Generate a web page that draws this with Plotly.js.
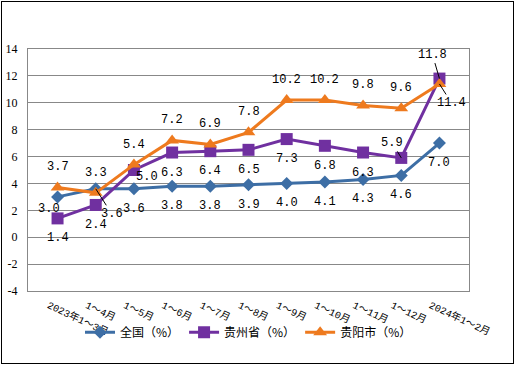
<!DOCTYPE html>
<html><head><meta charset="utf-8">
<script src="https://cdn.plot.ly/plotly-3.0.1.min.js"></script>
<style>
html,body{margin:0;padding:0;background:#fff;}
#wrap{position:relative;width:516px;height:366px;}
#chart{width:516px;height:366px;}
#frame{position:absolute;left:1px;top:1px;width:511px;height:361px;border:1px solid #000;pointer-events:none;}
</style></head>
<body><div id="wrap"><div id="chart"></div><div id="frame"></div></div>
<script>
const categories = ['2023年1～3月','1～4月','1～5月','1～6月','1～7月','1～8月','1～9月','1～10月','1～11月','1～12月','2024年1～2月'];
const seriesNames = ['全国（%）','贵州省（%）','贵阳市（%）'];
const national = [3.0, 3.6, 3.6, 3.8, 3.8, 3.9, 4.0, 4.1, 4.3, 4.6, 7.0];
const guizhou  = [1.4, 2.4, 5.0, 6.3, 6.4, 6.5, 7.3, 6.8, 6.3, 5.9, 11.8];
const guiyang  = [3.7, 3.3, 5.4, 7.2, 6.9, 7.8, 10.2, 10.2, 9.8, 9.6, 11.4];
const yTicks = [-4, -2, 0, 2, 4, 6, 8, 10, 12, 14];

const colors = ['#3D6EA5', '#7030A0', '#EE7A1E'];
const symbols = ['diamond', 'square', 'triangle-up'];
const msizes = [10, 12, 12];
const allData = [national, guizhou, guiyang];

// label offsets (pixels) and leader-line flags, per series
const defaultOff = [[0, 20], [0, 20], [0, -20]];
const specialOff = {
  '0-0': [-9, 12],
  '0-1': [16, 25, true],
  '1-2': [13, 7],
  '1-9': [-9, -15, true],
  '1-10': [-7, -24, true],
  '2-10': [12, 19, true]
};

const labelFont = {family: 'Liberation Mono, Noto Sans CJK SC', size: 12, color: '#000'};

const traces = allData.map((vals, s) => ({
  type: 'scatter', mode: 'lines+markers',
  name: seriesNames[s],
  x: categories, y: vals,
  line: {color: colors[s], width: 3},
  marker: {symbol: symbols[s], size: msizes[s], color: colors[s]}
}));

const annotations = [];
allData.forEach((vals, s) => {
  vals.forEach((v, i) => {
    const sp = specialOff[s + '-' + i];
    const off = sp || defaultOff[s];
    if (sp && sp[2]) {
      annotations.push({x: categories[i], y: v, xref: 'x', yref: 'y', text: v.toFixed(1),
        showarrow: true, ax: off[0], ay: off[1], arrowhead: 0, arrowwidth: 1, arrowcolor: '#000',
        standoff: 0, startstandoff: 0, font: labelFont});
    } else {
      annotations.push({x: categories[i], y: v, xref: 'x', yref: 'y', text: v.toFixed(1),
        showarrow: false, xshift: off[0], yshift: -off[1], font: labelFont});
    }
  });
});

const layout = {
  width: 516, height: 366,
  margin: {l: 28, r: 47, t: 49, b: 75},
  paper_bgcolor: '#fff', plot_bgcolor: '#fff',
  showlegend: true,
  legend: {orientation: 'h', x: 0.5, xanchor: 'center', y: -0.17, yanchor: 'middle',
    bgcolor: 'rgba(0,0,0,0)',
    font: {family: 'Noto Sans CJK SC', size: 12, color: '#000'}, itemwidth: 30},
  xaxis: {
    type: 'category', tickangle: 25, ticklabelshift: -9,
    tickfont: {family: 'Liberation Mono, Noto Sans CJK SC', size: 10, color: '#000'},
    showgrid: false, showline: true, linecolor: '#888', mirror: true, linewidth: 1,
    ticks: 'outside', ticklen: 4, tickcolor: 'rgba(0,0,0,0)', zeroline: false, fixedrange: true
  },
  yaxis: {
    range: [-4, 14], tickvals: yTicks, ticktext: yTicks.map(v => v < 0 ? '-' + Math.abs(v) : String(v)),
    tickfont: {family: 'Liberation Serif, Noto Sans CJK SC', size: 12, color: '#000'},
    showgrid: true, gridcolor: '#888', gridwidth: 1,
    showline: true, linecolor: '#888', mirror: true, linewidth: 1,
    zeroline: false, ticks: 'outside', ticklen: 7, tickcolor: 'rgba(0,0,0,0)'
  },
  annotations: annotations
};

Plotly.newPlot('chart', traces, layout, {displayModeBar: false, staticPlot: true});
</script></body></html>
